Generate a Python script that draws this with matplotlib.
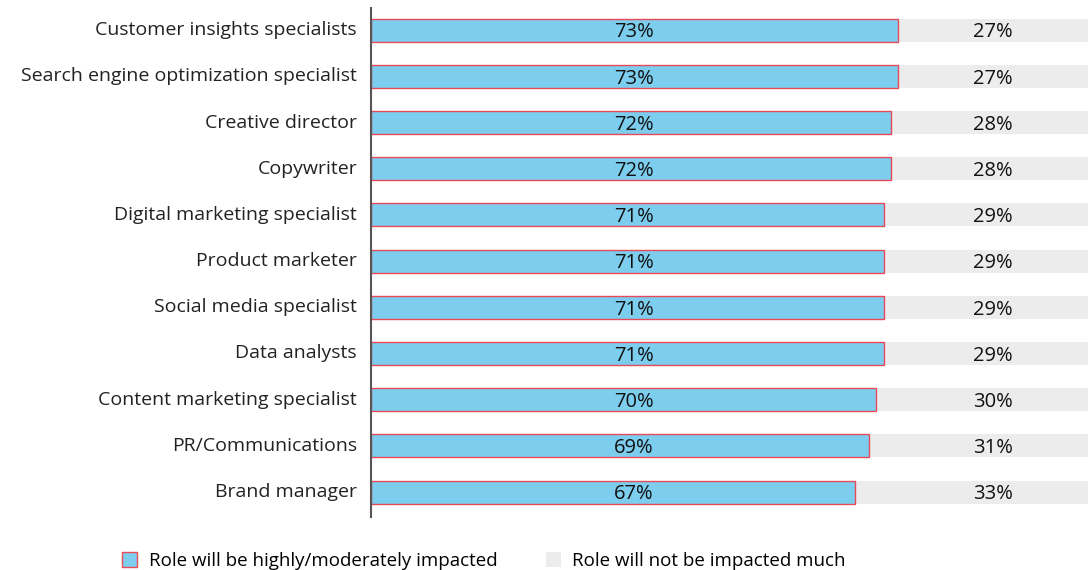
import matplotlib.pyplot as plt
from matplotlib.patches import Patch

roles = ['Customer insights specialists', 'Search engine optimization specialist',
         'Creative director', 'Copywriter', 'Digital marketing specialist',
         'Product marketer', 'Social media specialist', 'Data analysts',
         'Content marketing specialist', 'PR/Communications', 'Brand manager']
impacted = [73, 73, 72, 72, 71, 71, 71, 71, 70, 69, 67]
not_impacted = [27, 27, 28, 28, 29, 29, 29, 29, 30, 31, 33]

blue = '#7ccdee'
red_edge = '#e84a5a'
grey = '#ececec'

plt.rcParams['font.family'] = ['Open Sans', 'DejaVu Sans']

fig = plt.figure(figsize=(10.88, 5.70), dpi=100)
ax = fig.add_axes([371 / 1088, 53 / 570, 1 - 371 / 1088, 509 / 570])

y = list(range(len(roles)))
ax.barh(y, impacted, height=0.5, color=blue, edgecolor=red_edge, linewidth=1, zorder=3)
ax.barh(y, not_impacted, left=impacted, height=0.5, color=grey, linewidth=0, zorder=2)

# value labels sit in fixed columns, as in the original
for i in y:
    ax.text(36.4, i + 0.05, f'{impacted[i]}%', ha='center', va='center', fontsize=14.5, color='#111111', zorder=4)
    ax.text(86.1, i + 0.05, f'{not_impacted[i]}%', ha='center', va='center', fontsize=14.5, color='#111111', zorder=4)

ax.set_yticks(y)
ax.set_yticklabels(roles, fontsize=14, color='#222222', va='center')
ax.tick_params(axis='y', length=0, pad=10)
ax.set_xticks([])
ax.set_xlim(0, 99.3)
ax.set_ylim(10.54, -0.48)
for s in ['top', 'right', 'bottom']:
    ax.spines[s].set_visible(False)
ax.spines['left'].set_color('#555555')
ax.spines['left'].set_linewidth(1.5)
ax.spines['left'].set_zorder(5)

handles = [Patch(facecolor=blue, edgecolor=red_edge, linewidth=1),
           Patch(facecolor=grey, edgecolor='none')]
fig.legend(handles, ['Role will be highly/moderately impacted', 'Role will not be impacted much'],
           loc='center', bbox_to_anchor=(484 / 1088, 1 - 561 / 570), ncol=2, frameon=False,
           fontsize=13.5, handlelength=0.8, handleheight=0.8, columnspacing=2.6, handletextpad=0.6)

fig.savefig('out.png', dpi=100)
